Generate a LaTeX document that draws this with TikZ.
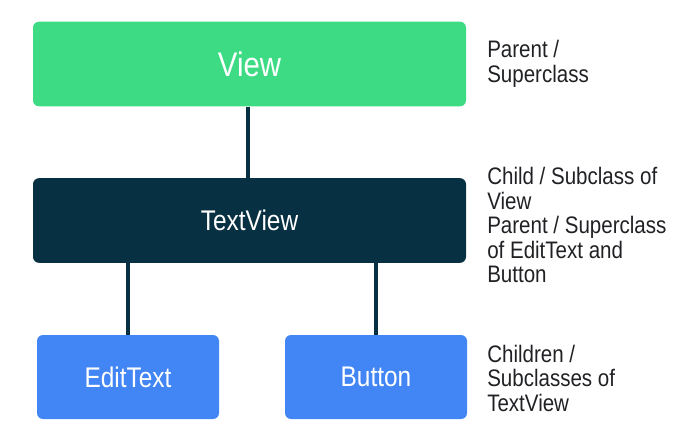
\documentclass[tikz,border=0pt]{standalone}
\usepackage{fontspec}
\setmainfont{Liberation Sans}
\newfontfamily\narrowsans[FakeStretch=0.86]{Liberation Sans}
\usepackage{xcolor}
\usetikzlibrary{positioning, calc}

\definecolor{droidgreen}{HTML}{3DDC84}
\definecolor{droidnavy}{HTML}{073042}
\definecolor{droidblue}{HTML}{4285F4}
\definecolor{notegray}{HTML}{202124}

\begin{document}
\begin{tikzpicture}[
x=0.75pt, y=-0.75pt,
classbox/.style={
rectangle,
rounded corners=4.5pt,
draw=none,
text=white,
align=center,
inner sep=0pt
},
wide/.style={
classbox,
minimum width=324.75pt,
minimum height=63.5pt
},
narrow/.style={
classbox,
minimum width=136.5pt,
minimum height=63pt,
font=\narrowsans\fontsize{21.3}{25}\selectfont
},
notetext/.style={
anchor=west,
align=left,
inner sep=0pt,
text=notegray,
font=\narrowsans\fontsize{17.9}{18.4}\selectfont
},
link/.style={
draw=droidnavy,
line width=3pt
}
]
\useasboundingbox (0,0) rectangle (681,443);

% class boxes
\node[wide, fill=droidgreen, font=\narrowsans\fontsize{25.6}{30}\selectfont] (view) at (249.5,64) {View};

\node[wide, fill=droidnavy, font=\narrowsans\fontsize{21.3}{25}\selectfont] (textview) at (249.5,220.5) {TextView};

\node[narrow, fill=droidblue] (edittext) at (128,377) {EditText};

\node[narrow, fill=droidblue] (button) at (376,377) {Button};

% connectors
\draw[link] (view.south -| 248,0) -- (textview.north -| 248,0);
\draw[link] (edittext.north |- textview.south) -- (edittext.north);
\draw[link] (button.north |- textview.south) -- (button.north);

% notes on the right
\node[notetext] (viewnote) at (487,64)
{Parent /\\Superclass};

\node[notetext] (textviewnote) at (487,225)
{Child / Subclass of\\View\\Parent / Superclass\\of EditText and\\Button};

\node[notetext] (childnote) at (487,378)
{Children /\\Subclasses of\\TextView};

\end{tikzpicture}
\end{document}
